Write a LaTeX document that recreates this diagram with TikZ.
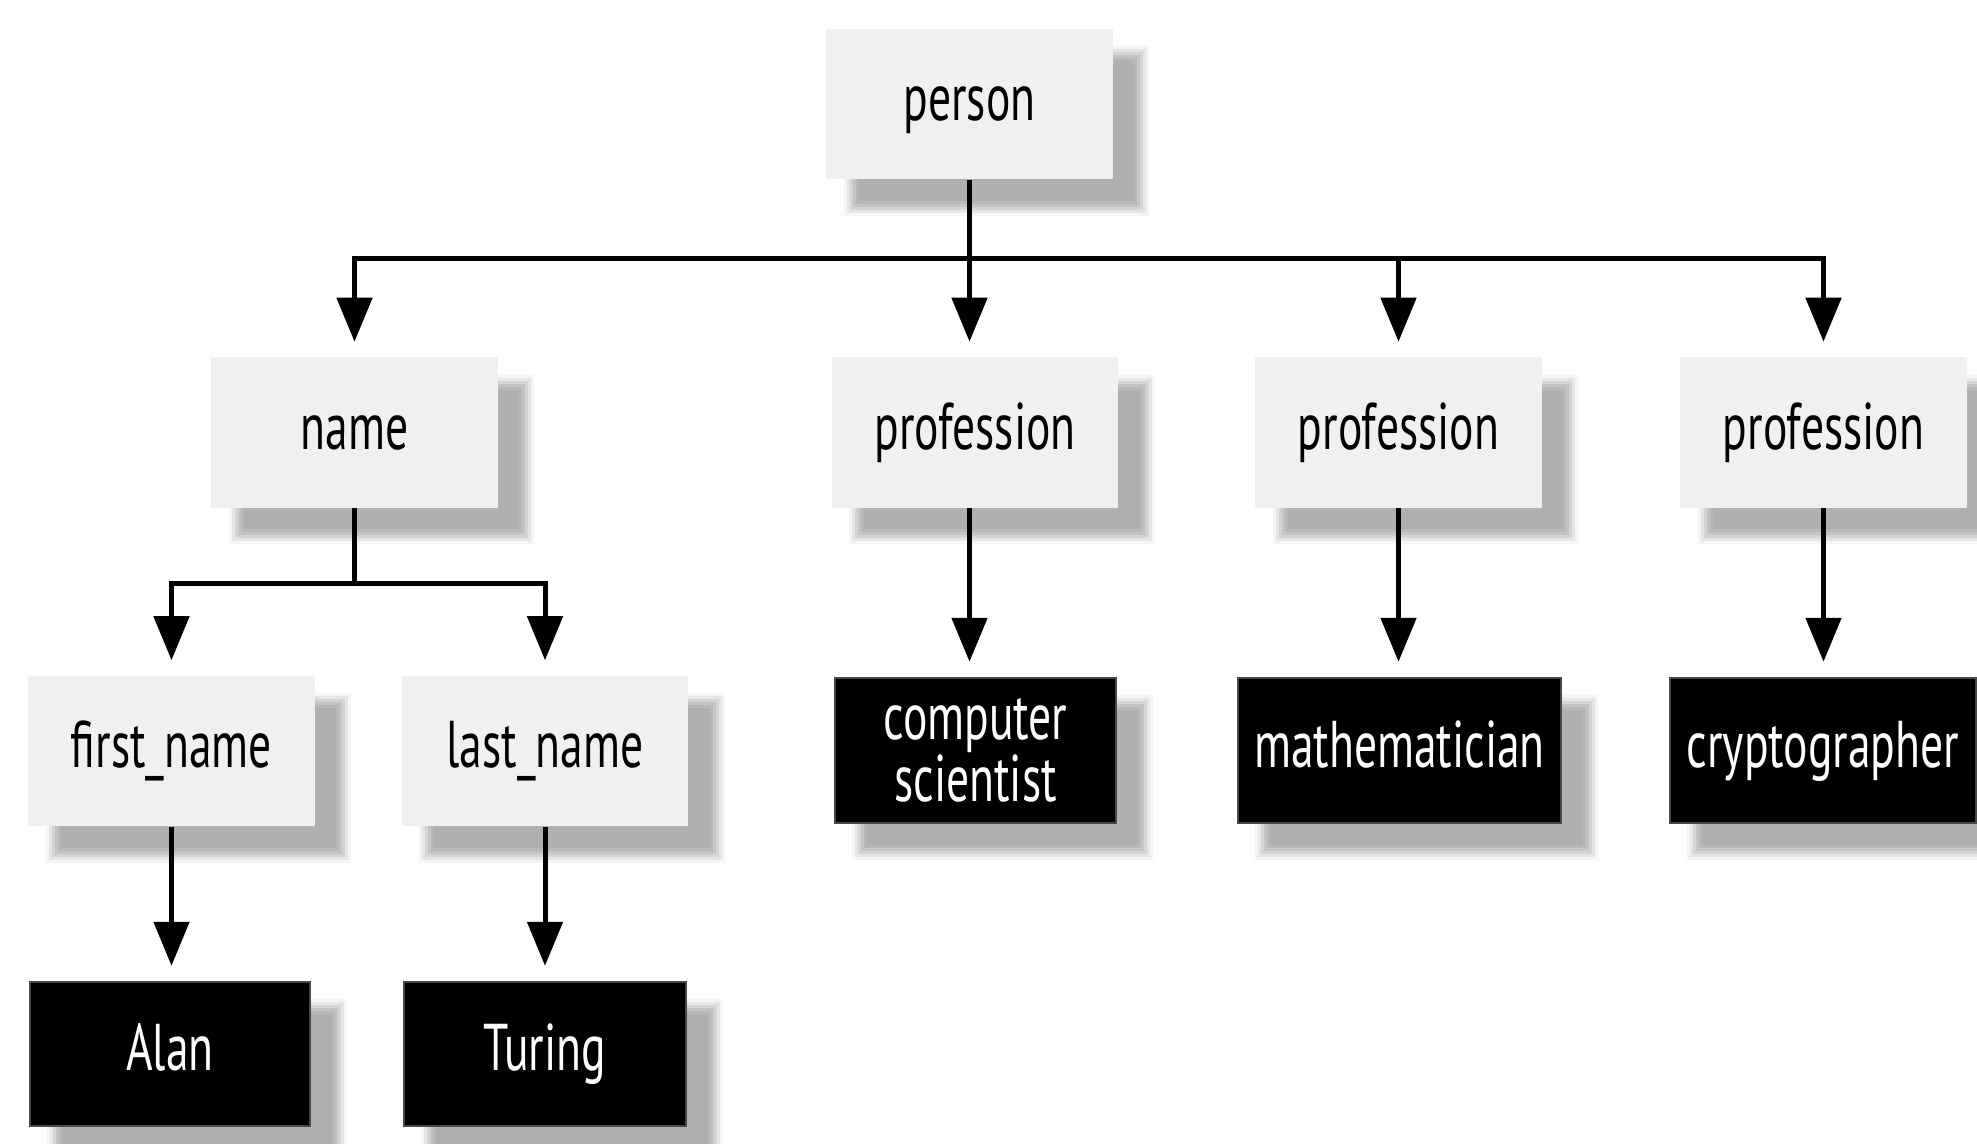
\documentclass[tikz,border=0pt]{standalone}
\usepackage{fontspec}
\setmainfont[FakeStretch=0.69]{PT Sans}
\usetikzlibrary{arrows.meta,backgrounds,calc}
\definecolor{boxgray}{HTML}{F0F0F0}
\newcommand\boxshadow[1]{%
  \foreach \gg/\cc in {9/4,6/10,3/17,0/23,-3/28,-6/31}{%
    \fill[black!\cc] ($(#1.north west)+(27-\gg,27-\gg)$) rectangle ($(#1.south east)+(27+\gg,27+\gg)$);}}
\tikzset{
  txt/.style={inner sep=0pt, font=\fontsize{37.6pt}{45pt}\selectfont},
  lbox/.style={txt, fill=boxgray, minimum width=5.74cm, minimum height=3.02cm, text height=0.66cm, text depth=0pt},
  dbox/.style={txt, fill=black, draw=black!72, line width=0.05cm, text=white, minimum height=2.9cm},
  conn/.style={line width=0.1cm, -{Triangle[width=0.7cm,length=0.88cm]}, shorten >=0.3cm}
}
\begin{document}
\begin{tikzpicture}[x=0.02cm,y=-0.02cm]
\useasboundingbox (0,0) rectangle (1977,1143);
% light boxes
\node[lbox] (person) at (969.5,104) {person};
\node[lbox] (name)   at (354.5,432.5) {name};
\node[lbox] (prof1)  at (975,432.5) {profession};
\node[lbox] (prof2)  at (1398.5,432.5) {profession};
\node[lbox] (prof3)  at (1823.5,432.5) {profession};
\node[lbox] (first)  at (171.5,751) {first\_name};
\node[lbox] (last)   at (545,751) {last\_name};
% dark boxes
\node[dbox, minimum width=5.62cm, align=center, font=\fontsize{37.6pt}{33pt}\selectfont] (compsci) at (975.5,750.5) {computer\\scientist};
\node[dbox, minimum width=6.46cm, text height=0.66cm, text depth=0pt] (math) at (1399.5,750.5) {mathematician};
\node[dbox, minimum width=6.12cm, text height=0.66cm, text depth=0pt] (crypto) at (1823,750.5) {cryptographer};
\node[dbox, minimum width=5.6cm, minimum height=2.88cm, text height=0.66cm, text depth=0pt] (alan) at (170,1054) {Alan};
\node[dbox, minimum width=5.64cm, minimum height=2.88cm, text height=0.66cm, text depth=0pt] (turing) at (545,1054) {Turing};
% shadows
\begin{scope}[on background layer]
  \fill[white] (0,0) rectangle (1977,1143);
  \foreach \n in {person,name,prof1,prof2,prof3,first,last,compsci,math,crypto,alan,turing}{\boxshadow{\n}}
\end{scope}
% bus coordinates
\coordinate (bus1) at (969.5,258.5);
\coordinate (bus2) at (354.5,583);
% connectors
\draw[conn] (person.south) -- (bus1) -| (name.north);
\draw[conn] (person.south) -- (person.south |- prof1.north);
\draw[conn] (person.south) -- (bus1) -| (prof2.north);
\draw[conn] (person.south) -- (bus1) -| (prof3.north);
\draw[conn] (name.south) -- (bus2) -| (first.north);
\draw[conn] (name.south) -- (bus2) -| (last.north);
\draw[conn] (first.south) -- (first.south |- alan.north);
\draw[conn] (last.south) -- (last.south |- turing.north);
\draw[conn] (person.south |- prof1.south) -- (person.south |- compsci.north);
\draw[conn] (prof2.south) -- (prof2.south |- math.north);
\draw[conn] (prof3.south) -- (prof3.south |- crypto.north);
\end{tikzpicture}
\end{document}
